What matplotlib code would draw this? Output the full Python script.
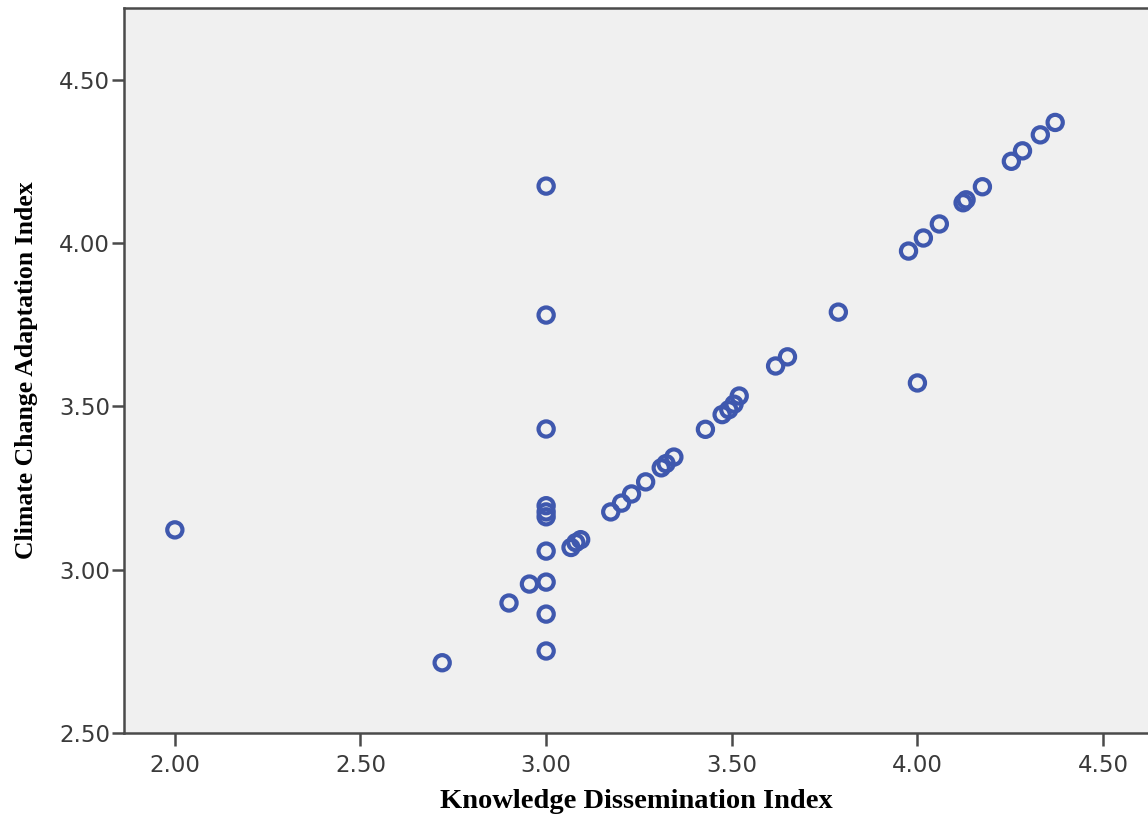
import matplotlib
matplotlib.use("Agg")
import matplotlib.pyplot as plt

# Knowledge Dissemination Index (x) vs Climate Change Adaptation Index (y)
knowledge = [2.00, 2.72, 2.90, 2.955, 3.00, 3.00, 3.00, 3.00, 3.00, 3.00,
             3.00, 3.00, 3.00, 3.00, 3.067, 3.08, 3.093, 3.174, 3.203, 3.230,
             3.268, 3.310, 3.323, 3.344, 3.429, 3.474, 3.492, 3.506, 3.520,
             3.618, 3.650, 3.787, 3.976, 4.016, 4.059, 4.123, 4.131, 4.175,
             4.253, 4.283, 4.331, 4.371, 4.000]
adaptation = [3.122, 2.715, 2.898, 2.956, 2.962, 2.864, 2.751, 3.057, 3.196,
              3.177, 3.162, 3.431, 3.780, 4.175, 3.068, 3.083, 3.092, 3.177,
              3.204, 3.232, 3.269, 3.312, 3.325, 3.345, 3.430, 3.475, 3.490,
              3.507, 3.532, 3.624, 3.652, 3.789, 3.976, 4.016, 4.059, 4.124,
              4.133, 4.173, 4.251, 4.283, 4.332, 4.370, 3.572]

x_ticks = [2.00, 2.50, 3.00, 3.50, 4.00, 4.50]
y_ticks = [2.50, 3.00, 3.50, 4.00, 4.50]

fig = plt.figure(figsize=(11.48, 8.18), dpi=100)
ax = fig.add_axes([0.108, 0.104, 0.892, 0.886])
ax.set_facecolor('#f0f0f0')

ax.scatter(knowledge, adaptation, s=120, facecolors='none',
           edgecolors='#3f58ae', linewidths=3.0, zorder=3)

ax.set_xlim(1.863, 4.621)
ax.set_ylim(2.5, 4.72)
ax.set_xticks(x_ticks)
ax.set_yticks(y_ticks)
ax.set_xticklabels([f"{v:.2f}" for v in x_ticks])
ax.set_yticklabels([f"{v:.2f}" for v in y_ticks])

for side in ['left', 'bottom', 'top']:
    ax.spines[side].set_color('#4a4a4a')
    ax.spines[side].set_linewidth(1.8)
ax.spines['right'].set_visible(False)

ax.tick_params(axis='both', length=9, width=1.8, color='#4a4a4a',
               labelsize=16.5, labelcolor='#3a3a3a')
ax.tick_params(axis='x', pad=6)
ax.tick_params(axis='y', pad=1)

ax.set_xlabel("Knowledge Dissemination Index", fontfamily='Liberation Serif',
              fontweight='bold', fontsize=20.5, labelpad=9)
ax.set_ylabel("Climate Change Adaptation Index", fontfamily='Liberation Serif',
              fontweight='bold', fontsize=18.5, labelpad=15)

fig.savefig("out.png", dpi=100)
